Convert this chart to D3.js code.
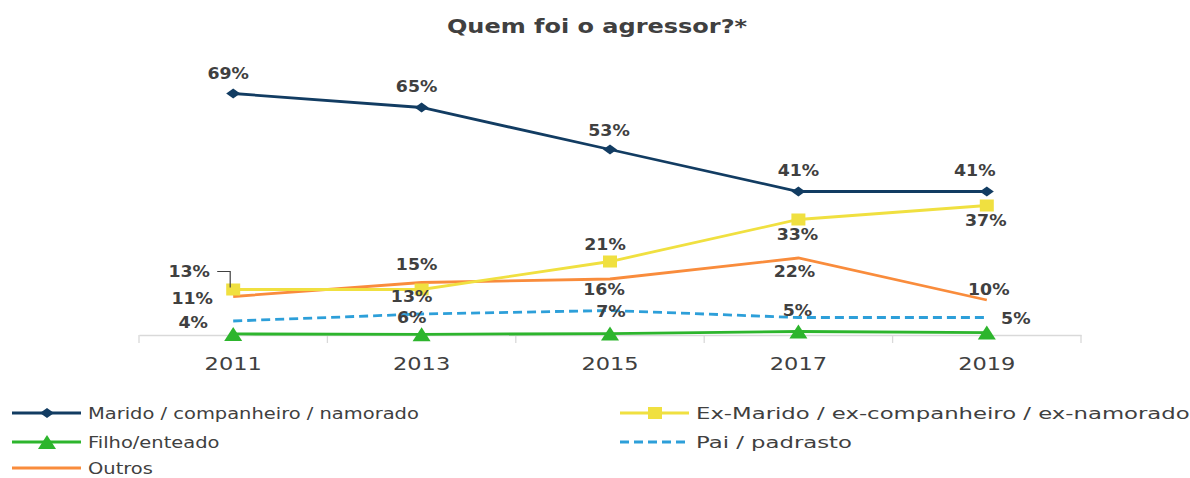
<!DOCTYPE html>
<html>
<head>
<meta charset="utf-8">
<script src="https://cdn.jsdelivr.net/npm/d3@7"></script>
<style>
  body { margin: 0; background: #fff; }
  svg { display: block; font-family: "DejaVu Sans", sans-serif; }
</style>
</head>
<body>
<svg id="chart"></svg>
<script>
// data
const years = ["2011", "2013", "2015", "2017", "2019"];
const marido = [69, 65, 53, 41, 41];
const exMarido = [13, 13, 21, 33, 37];
const filho = [0.3, 0.2, 0.4, 1.0, 0.7];
const pai = [4, 6, 7, 5, 5];
const outros = [11, 15, 16, 22, 10];
const seriesNames = ["Marido / companheiro / namorado", "Ex-Marido / ex-companheiro / ex-namorado",
  "Filho/enteado", "Pai / padrasto", "Outros"];

// where each data label sits relative to its point  [dx, dy]
const labelOffsets = {
  marido:   [[-5, -15], [-5, -16], [-1, -14], [0, -16], [-12, -16]],
  exMarido: [[-44, -13], [-10, 12], [-5, -12], [-1, 20], [-1, 20]],
  pai:      [[-40, 7], [-10, 9], [1, 6], [-1, -2], [29, 6]],
  outros:   [[-41, 7], [-5, -13], [-6, 16], [-4, 19], [2, -5]]
};

let width = 1190,
  height = 478,
  sx = 1.18;

let svg = d3.select("#chart")
  .attr("width", width)
  .attr("height", height);

// band scale covers the axis, points sit at the band centres
let xBand = d3.scaleBand()
  .domain(years)
  .range([139, 1081]);
let x = d => xBand(d) + xBand.bandwidth() / 2;

let y = d3.scaleLinear()
  .domain([0, 69])
  .range([335, 93.5]);

// stretched text helper (reference is horizontally widened)
function addText(g, px, py, str, size, weight, anchor, k) {
  return g.append("text")
    .attr("transform", `translate(${px},${py}) scale(${k || sx},1)`)
    .attr("text-anchor", anchor || "middle")
    .attr("font-size", size)
    .attr("font-weight", weight || "normal")
    .attr("fill", "#404040")
    .text(str);
}

// title
addText(svg, 597, 33, "Quem foi o agressor?*", 20, "bold", "middle", 1.2);

// x axis
let xAxis = d3.axisBottom(xBand)
  .tickSize(0)
  .tickFormat("");
let axisG = svg.append("g")
  .attr("transform", "translate(0,335)")
  .call(xAxis);
axisG.select(".domain").attr("stroke", "#d9d9d9").attr("stroke-width", 1.3);
axisG.selectAll(".tick").remove();

// tick marks between categories
let boundaries = years.map(d => xBand(d)).concat([xBand.range()[1]]);
svg.append("g").selectAll("line")
  .data(boundaries)
  .enter()
  .append("line")
  .attr("x1", d => d).attr("x2", d => d)
  .attr("y1", 335).attr("y2", 343)
  .attr("stroke", "#d9d9d9")
  .attr("stroke-width", 1.3);

let yearLabels = svg.append("g");
years.forEach(yr => addText(yearLabels, x(yr), 370, yr, 18, "normal", "middle", 1.25));

const colors = {
  marido: "#123c62",
  exMarido: "#f0e040",
  filho: "#2db52d",
  pai: "#2d9fd9",
  outros: "#f98c3c"
};

let line = d3.line()
  .x((d, i) => x(years[i]))
  .y(d => y(d));

function drawLine(values, color, dash) {
  svg.append("path")
    .datum(values)
    .attr("d", line)
    .attr("fill", "none")
    .attr("stroke", color)
    .attr("stroke-width", 2.8)
    .attr("stroke-dasharray", dash || null);
}

// marker shapes
function diamond(g, cx, cy, color) {
  g.append("path")
    .attr("d", `M${cx - 7},${cy} L${cx},${cy - 5} L${cx + 7},${cy} L${cx},${cy + 5} Z`)
    .attr("fill", color);
}
function square(g, cx, cy, color) {
  g.append("rect")
    .attr("x", cx - 7).attr("y", cy - 6)
    .attr("width", 14).attr("height", 12)
    .attr("fill", color);
}
function triangle(g, cx, cy, color) {
  g.append("path")
    .attr("d", `M${cx - 9},${cy + 7} L${cx},${cy - 7} L${cx + 9},${cy + 7} Z`)
    .attr("fill", color);
}

drawLine(pai, colors.pai, "9,5");
drawLine(filho, colors.filho);
drawLine(outros, colors.outros);
drawLine(exMarido, colors.exMarido);
drawLine(marido, colors.marido);

let markers = svg.append("g");
filho.forEach((v, i) => triangle(markers, x(years[i]), y(v), colors.filho));
exMarido.forEach((v, i) => square(markers, x(years[i]), y(v), colors.exMarido));
marido.forEach((v, i) => diamond(markers, x(years[i]), y(v), colors.marido));

// data labels
let labels = svg.append("g");
function drawLabels(values, offs) {
  values.forEach((v, i) => {
    addText(labels, x(years[i]) + offs[i][0], y(v) + offs[i][1], v + "%", 15.5, "bold", "middle", 1.12);
  });
}
drawLabels(marido, labelOffsets.marido);
drawLabels(exMarido, labelOffsets.exMarido);
drawLabels(pai, labelOffsets.pai);
drawLabels(outros, labelOffsets.outros);

// leader line for the first ex-marido label
let lx = x(years[0]), ly = y(exMarido[0]);
svg.append("path")
  .attr("d", `M${lx - 16},${ly - 18} L${lx - 3},${ly - 18} L${lx - 3},${ly - 2}`)
  .attr("fill", "none")
  .attr("stroke", "#404040")
  .attr("stroke-width", 1.2);

// legend
let legend = svg.append("g");
const legendItems = [
  { name: seriesNames[0], color: colors.marido, mark: diamond, lx: 12, ly: 413, k: 1.18 },
  { name: seriesNames[1], color: colors.exMarido, mark: square, lx: 620, ly: 413, k: 1.38 },
  { name: seriesNames[2], color: colors.filho, mark: triangle, lx: 12, ly: 442, k: 1.18 },
  { name: seriesNames[3], color: colors.pai, mark: null, lx: 620, ly: 442, k: 1.38, dash: "9,5" },
  { name: seriesNames[4], color: colors.outros, mark: null, lx: 12, ly: 468, k: 1.18 }
];
legendItems.forEach(d => {
  legend.append("line")
    .attr("x1", d.lx).attr("x2", d.lx + 69)
    .attr("y1", d.ly).attr("y2", d.ly)
    .attr("stroke", d.color)
    .attr("stroke-width", 2.8)
    .attr("stroke-dasharray", d.dash || null);
  if (d.mark) d.mark(legend, d.lx + 35, d.ly, d.color);
  addText(legend, d.lx + 76, d.ly + 6, d.name, 16.5, "normal", "start", d.k);
});
</script>
</body>
</html>
